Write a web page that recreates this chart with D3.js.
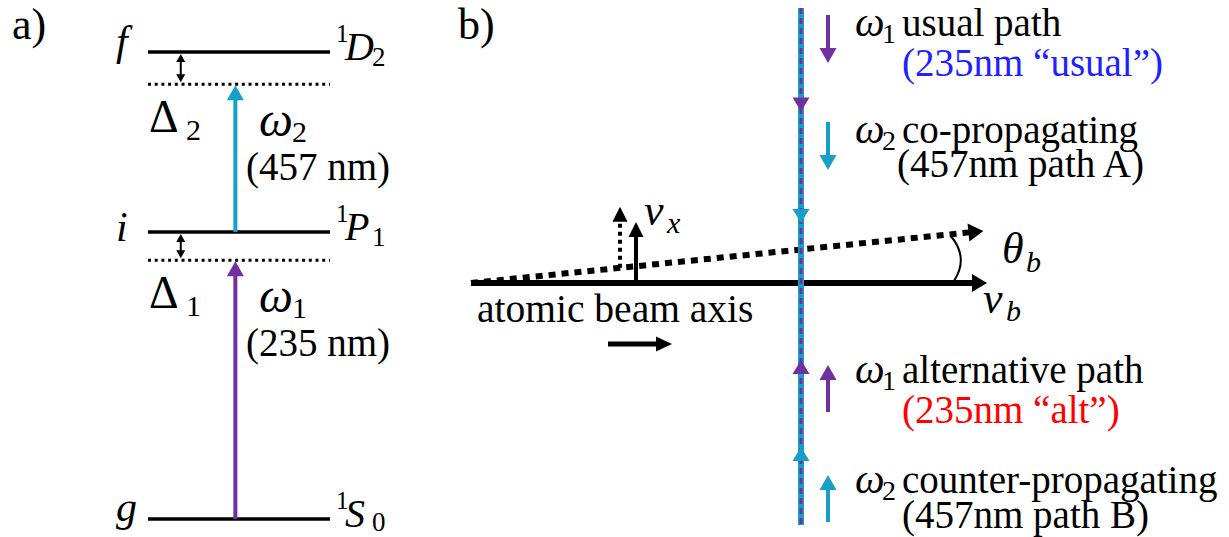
<!DOCTYPE html>
<html><head><meta charset="utf-8">
<script src="https://cdn.jsdelivr.net/npm/d3@7"></script>
<style>html,body{margin:0;background:#fff;}</style></head><body>
<svg id="fig" width="1229" height="537"></svg>
<script>
// ---- a) level scheme (schematic energy units: ground = 0, 1P1 = 1) ----
const levelNames   = ["g", "i", "f"];
const levelTerms   = [["1", "S", "0"], ["1", "P", "1"], ["1", "D", "2"]];
const levelEnergy  = [0, 1, 1.627];
const detunings    = [0.098, 0.112];          // Δ1 below i, Δ2 below f
const photonIndex  = ["1", "2"];              // ω subscripts
const photonLabels = ["(235 nm)", "(457 nm)"];

// ---- b) laser paths crossing the atomic beam ----
const pathOmega  = ["1", "2", "1", "2"];
const pathNames  = ["usual path", "co-propagating", "alternative path", "counter-propagating"];
const pathNotes  = ["(235nm \u201cusual\u201d)", "(457nm path A)", "(235nm \u201calt\u201d)", "(457nm path B)"];
const pathDir    = ["down", "down", "up", "up"];
const beamTiltDeg = 5.8;                      // θb, tilted atomic trajectory

const PURPLE = "#7030a0", CYAN = "#16a0c9";
const photonColors = [PURPLE, CYAN];
const noteColors = ["#1f1fff", "#000", "#ff0000", "#000"];
const FONT = '"Tinos", "Liberation Serif", "Times New Roman", "FreeSerif"';

const svg = d3.select("#fig");
const marks = svg.append("g");   // lines and arrows
const labels = [];               // text items, drawn last straight into the svg

function txt(x, y, s, o = {}) {
  labels.push({ x, y, s, size: o.size || 39, italic: !!o.italic, fill: o.fill || "#000" });
}
// straight arrow ending in a filled triangular head at (x2,y2)
function arrow(x1, y1, x2, y2, o = {}) {
  const w = o.width || 4, hw = o.headW || 16, hl = o.headL || 14, c = o.color || "#000";
  const dx = x2 - x1, dy = y2 - y1, L = Math.hypot(dx, dy), ux = dx / L, uy = dy / L;
  const bx = x2 - ux * hl, by = y2 - uy * hl;
  marks.append("line").attr("x1", x1).attr("y1", y1).attr("x2", bx + ux).attr("y2", by + uy)
    .attr("stroke", c).attr("stroke-width", w);
  head(x2, y2, ux, uy, hw, hl, c);
}
function head(x, y, ux, uy, hw, hl, c) {
  const px = -uy, py = ux, bx = x - ux * hl, by = y - uy * hl;
  marks.append("path").attr("fill", c)
    .attr("d", `M${x},${y}L${bx + px * hw / 2},${by + py * hw / 2}L${bx - px * hw / 2},${by - py * hw / 2}Z`);
}

// ================= panel a =================
txt(12, 39, "a)", { size: 44 });

const eY = d3.scaleLinear().domain([0, 1]).range([519, 232]);
const xL = d3.scaleLinear().domain([0, 1]).range([148, 330]);
const arrowX = xL(0.48), detX = xL(0.18);

// real levels
levelEnergy.forEach((E, k) => {
  marks.append("line").attr("x1", xL(0)).attr("x2", xL(1)).attr("y1", eY(E)).attr("y2", eY(E))
    .attr("stroke", "#000").attr("stroke-width", 3.4);
  const y = eY(E);
  txt(xL(0) - 32, y + (k === 0 ? 2 : k === 1 ? 9 : 3), levelNames[k], { size: 42, italic: true });
  const t = levelTerms[k];
  txt(xL(1) + 6, y - 10, t[0], { size: 25 });
  txt(xL(1) + 15, y + 8, t[1], { size: 40, italic: true });
  txt(xL(1) + 42, y + (k === 0 ? 12 : 14), t[2], { size: 27 });
});

// virtual levels, detuning markers and photons
detunings.forEach((d, k) => {
  const Ereal = levelEnergy[k + 1], Evirt = Ereal - d;
  const yR = eY(Ereal), yV = eY(Evirt);
  marks.append("line").attr("x1", xL(0)).attr("x2", xL(1)).attr("y1", yV).attr("y2", yV)
    .attr("stroke", "#000").attr("stroke-width", 3).attr("stroke-dasharray", "3,3.7");
  // double-headed detuning arrow
  marks.append("line").attr("x1", detX).attr("x2", detX).attr("y1", yR + 8).attr("y2", yV - 8)
    .attr("stroke", "#000").attr("stroke-width", 2);
  head(detX, yR + 2, 0, -1, 9, 8, "#000");
  head(detX, yV - 2, 0, 1, 9, 8, "#000");
  // photon arrow from lower level to virtual level
  arrow(arrowX, eY(levelEnergy[k]), arrowX, yV + 1,
    { color: photonColors[k], width: 4, headW: 17, headL: 15 });
  // Δ label
  txt(149, yV + 48, "\u0394", { size: 46 });
  txt(186, yV + 56, photonIndex[k], { size: 30 });
  // ω label + wavelength
  txt(259, yV + 52, "\u03c9", { size: 48, italic: true });
  txt(292, yV + 58, photonIndex[k], { size: 30 });
  txt(246, yV + 96, photonLabels[k], { size: 39 });
});

// ================= panel b =================
txt(458, 39, "b)", { size: 44 });

const laserX = 801, laserTop = 8, laserBot = 525;
const ly = d3.scaleLinear().domain([0, 1]).range([laserTop, laserBot]);

// atomic beam axis and tilted trajectory
const ox = 471, oy = 283, axisLen = 516;
arrow(ox, oy, ox + axisLen, oy, { width: 6, headW: 18, headL: 15 });
const th = beamTiltDeg * Math.PI / 180, tiltLen = 515;
const tx = ox + tiltLen * Math.cos(th), ty = oy - tiltLen * Math.sin(th);
const tiltAt = x => oy - (x - ox) * Math.tan(th);
marks.append("line").attr("x1", ox).attr("y1", oy)
  .attr("x2", tx - 14 * Math.cos(th)).attr("y2", ty + 14 * Math.sin(th))
  .attr("stroke", "#000").attr("stroke-width", 6).attr("stroke-dasharray", "7,6");
head(tx, ty, Math.cos(th), -Math.sin(th), 18, 15, "#000");

// angle mark
marks.append("path").attr("fill", "none").attr("stroke", "#000").attr("stroke-width", 2)
  .attr("d", `M951,${tiltAt(951) + 2} Q969,${oy - 25} 954,${oy - 2}`);
txt(1002, 263, "\u03b8", { size: 44, italic: true });
txt(1026, 272, "b", { size: 30, italic: true });
txt(983, 313, "v", { size: 44, italic: true });
txt(1006, 321, "b", { size: 30, italic: true });

// transverse velocity arrows
const vxLen = 61;
arrow(636, oy, 636, oy - vxLen, { width: 4, headW: 15, headL: 15 });
marks.append("line").attr("x1", 620).attr("x2", 620).attr("y1", tiltAt(620)).attr("y2", tiltAt(620) - vxLen + 14)
  .attr("stroke", "#000").attr("stroke-width", 4).attr("stroke-dasharray", "4,4");
head(620, tiltAt(620) - vxLen, 0, -1, 15, 15, "#000");
txt(644, 225, "v", { size: 44, italic: true });
txt(667, 233, "x", { size: 30, italic: true });

txt(477, 322, "atomic beam axis", { size: 39.5 });
arrow(608, 344, 672, 344, { width: 5, headW: 15, headL: 16 });

// laser beam: overlapping 457 nm (cyan) and 235 nm (purple, dashed)
marks.append("line").attr("x1", laserX).attr("x2", laserX).attr("y1", laserTop).attr("y2", laserBot)
  .attr("stroke", CYAN).attr("stroke-width", 6);
marks.append("line").attr("x1", laserX).attr("x2", laserX).attr("y1", laserTop).attr("y2", laserBot)
  .attr("stroke", PURPLE).attr("stroke-width", 3).attr("stroke-dasharray", "6,4");

// direction markers on the laser line
const onLineTips = [0.2, 0.416, 0.681, 0.849];
onLineTips.forEach((p, k) => {
  const c = photonColors[+pathOmega[k] - 1];
  const dir = pathDir[k] === "down" ? 1 : -1;
  head(laserX, ly(p), 0, dir, 17, 14, c);
});

// legend entries
const legendBase = [36, 143, 383, 493];
const legX = 828;
legendBase.forEach((yb, k) => {
  const c = photonColors[+pathOmega[k] - 1];
  const top = yb - 21, bot = yb + 27;
  if (pathDir[k] === "down") arrow(legX, top, legX, bot, { color: c, width: 4, headW: 17, headL: 15 });
  else arrow(legX, bot + 2, legX, top + 3, { color: c, width: 4, headW: 17, headL: 15 });
  txt(855, yb, "\u03c9", { size: 42, italic: true });
  txt(882, yb + 7, pathOmega[k], { size: 28 });
  txt(902, yb, pathNames[k], { size: 39 });
  txt(k === 1 ? 897 : 902, yb + (k % 2 === 0 ? 40 : 34) + (k === 3 ? 1 : 0), pathNotes[k],
    { size: 39, fill: noteColors[k] });
});

// all labels as direct svg children
const textSel = svg.selectAll("text").data(labels).join("text")
  .attr("x", d => d.x).attr("y", d => d.y)
  .attr("font-size", d => d.size)
  .attr("font-style", d => d.italic ? "italic" : null)
  .attr("fill", d => d.fill)
  .style("font-family", FONT)
  .text(d => d.s);

// re-apply the family once the serif faces are resolved
if (document.fonts && document.fonts.load) {
  Promise.all([
    document.fonts.load('39px "Liberation Serif"'),
    document.fonts.load('italic 39px "Liberation Serif"'),
    document.fonts.load('39px "Tinos"')
  ]).then(() => textSel.style("font-family", null).style("font-family", FONT)).catch(() => {});
}
</script>
</body></html>
